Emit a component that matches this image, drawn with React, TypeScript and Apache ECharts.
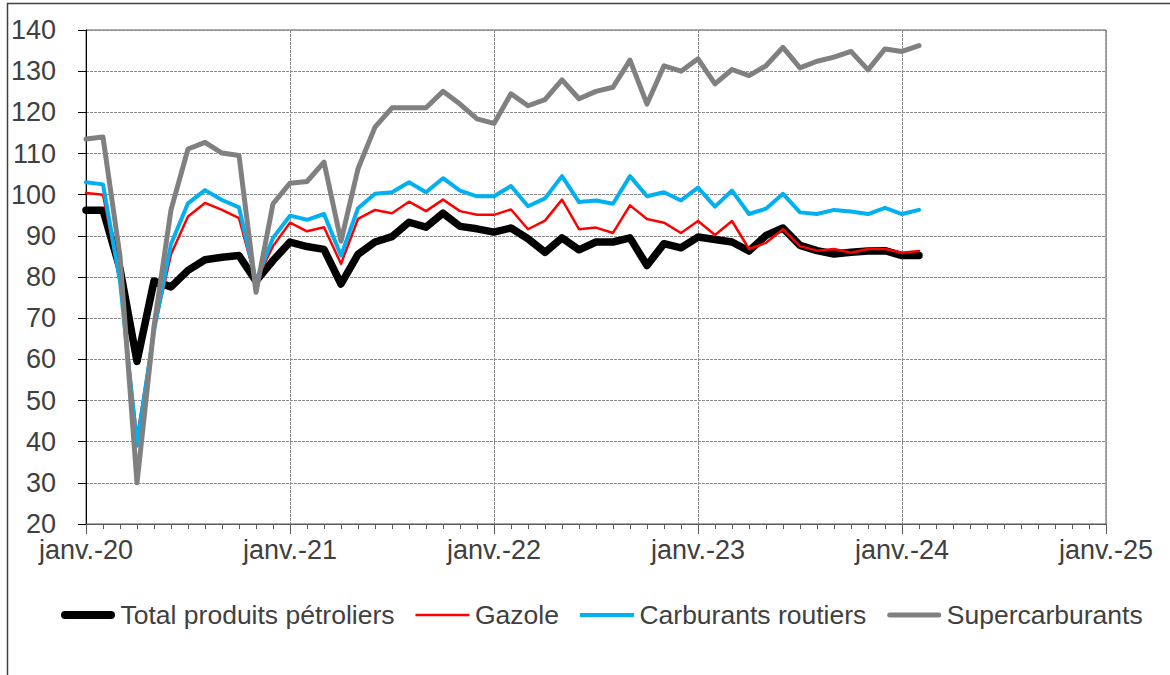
import React, { useEffect, useRef } from "react";
import * as echarts from "echarts";

const monthNames = ["janv.", "févr.", "mars", "avr.", "mai", "juin", "juil.", "août", "sept.", "oct.", "nov.", "déc."];
const years = ["20", "21", "22", "23", "24"];
const lastYear = "25";

const totalProduits = [
  96.2, 96.2, 82, 59.5, 79, 77.6, 81.6, 84.2, 84.8, 85.2, 79, 84,
  88.5, 87.4, 86.7, 78.3, 85.5, 88.5, 89.8, 93.3, 92.1, 95.5, 92.3, 91.7,
  90.9, 91.9, 89.3, 86.0, 89.5, 86.6, 88.5, 88.5, 89.5, 82.8, 88.1, 87.1,
  89.7, 89.1, 88.5, 86.3, 90.1, 91.9, 87.7, 86.4, 85.6, 86.0, 86.3, 86.4,
  85.2, 85.2,
];
const gazole = [
  100.4, 100.0, 79, 41, 67, 85.5, 94.7, 98.0, 96.3, 94.3, 79, 87.5,
  93.2, 91.1, 92.1, 83.2, 94.1, 96.3, 95.5, 98.3, 96.0, 98.8, 96.0, 95.1,
  95.1, 96.4, 91.6, 93.7, 98.8, 91.6, 92.0, 90.7, 97.4, 94.1, 93.2, 90.7,
  93.6, 90.2, 93.6, 86.8, 88.3, 91.6, 87.5, 86.4, 86.8, 85.9, 86.8, 86.8,
  85.9, 86.3,
];
const carburantsRoutiers = [
  103.0, 102.5, 79, 39, 67, 88, 97.9, 101.1, 98.7, 96.9, 79, 89.5,
  94.9, 93.9, 95.3, 85.2, 96.7, 100.2, 100.6, 103.0, 100.6, 104.0, 101.0, 99.6,
  99.6, 102.1, 97.2, 99.1, 104.5, 98.2, 98.6, 97.8, 104.5, 99.6, 100.6, 98.6,
  101.7, 97.1, 101.0, 95.3, 96.6, 100.2, 95.7, 95.3, 96.3, 95.9, 95.3, 96.8,
  95.3, 96.3,
];
const supercarburants = [
  113.5, 114.0, 85, 30, 68, 96.3, 111.1, 112.7, 110.1, 109.5, 76.3, 97.8,
  102.8, 103.2, 107.9, 88.7, 106.3, 116.4, 121.1, 121.1, 121.1, 125.1, 122.0, 118.4,
  117.3, 124.5, 121.6, 123.1, 127.9, 123.3, 125.1, 126.1, 132.7, 122.0, 131.3, 130.0,
  133.0, 126.9, 130.4, 128.9, 131.3, 135.8, 130.8, 132.4, 133.4, 134.8, 130.3, 135.4,
  134.8, 136.2,
];

const seriesNames = ["Total produits pétroliers", "Gazole", "Carburants routiers", "Supercarburants"];
const seriesColors = ["#000000", "#ff0000", "#00b0f0", "#808080"];
const seriesWidths = [7.5, 2.5, 4, 5];

const months: string[] = [];
years.forEach((y) => monthNames.forEach((m) => months.push(m + "-" + y)));
months.push(monthNames[0] + "-" + lastYear);

const FONT = "'Liberation Sans', Arial, sans-serif";
const TEXT = "#404040";

// legend icon: a horizontal bar of given thickness inside a 54x14 box
function barIcon(h: number, round: boolean) {
  const W = 54, H = 14;
  const y0 = (H - h) / 2, y1 = (H + h) / 2, r = h / 2;
  const body = round
    ? `M${r},${y0} L${W - r},${y0} A${r},${r} 0 0 1 ${W - r},${y1} L${r},${y1} A${r},${r} 0 0 1 ${r},${y0} Z`
    : `M0,${y0} L${W},${y0} L${W},${y1} L0,${y1} Z`;
  return `path://M0,0 L0.01,0 Z M${W},${H} L${W - 0.01},${H} Z ${body}`;
}

export default function App() {
  const ref = useRef<HTMLDivElement>(null);
  useEffect(() => {
    if (!ref.current) return;
    const chart = echarts.init(ref.current, undefined, { renderer: "svg" });
    const dash = { color: "#8c8c8c", width: 1, type: [3, 1] as any };
    chart.setOption({
      animation: false,
      backgroundColor: "#ffffff",
      textStyle: { fontFamily: FONT },
      grid: { left: 86, right: 64, top: 30, bottom: 151, show: true, borderColor: "#595959", borderWidth: 1 },
      graphic: [
        {
          type: "polyline",
          shape: { points: [[7.5, 675], [7.5, 3.5], [1170, 3.5]] },
          style: { stroke: "#404040", lineWidth: 1.5, fill: "none" },
          silent: true,
        },
      ],
      legend: {
        left: 56,
        top: 596,
        itemWidth: 55,
        itemHeight: 14,
        itemGap: 21,
        textStyle: { fontFamily: FONT, fontSize: 26.5, color: TEXT, lineHeight: 28 },
        data: seriesNames.map((n, i) => ({
          name: n,
          icon: barIcon(i === 0 ? 8 : seriesWidths[i], i === 0 || i === 3),
          itemStyle: { color: seriesColors[i], borderWidth: 0 },
        })),
      },
      xAxis: [
        {
          type: "category",
          data: months,
          boundaryGap: false,
          position: "bottom",
          axisLine: { show: true, lineStyle: { color: "#595959", width: 1 } },
          axisTick: { show: true, interval: 0, length: 5, lineStyle: { color: "#595959" } },
          axisLabel: { show: false },
          splitLine: { show: false },
        },
        {
          type: "category",
          data: months,
          boundaryGap: false,
          position: "bottom",
          axisLine: { show: false },
          axisTick: { show: true, interval: 11, length: 10, lineStyle: { color: "#595959" } },
          axisLabel: { show: true, interval: 11, margin: 12, fontSize: 27, color: TEXT, fontFamily: FONT },
          splitLine: { show: true, interval: 11, lineStyle: dash },
        },
      ],
      yAxis: {
        type: "value",
        min: 20,
        max: 140,
        interval: 10,
        axisLine: { show: true, lineStyle: { color: "#000000", width: 1 } },
        axisTick: { show: true, length: 8, lineStyle: { color: "#000000" } },
        axisLabel: { fontSize: 27, color: TEXT, margin: 30, fontFamily: FONT },
        splitLine: { show: true, lineStyle: dash },
      },
      series: [totalProduits, gazole, carburantsRoutiers, supercarburants].map((d, i) => ({
        name: seriesNames[i],
        type: "line",
        data: d,
        symbol: "none",
        z: 2 + i,
        lineStyle: { color: seriesColors[i], width: seriesWidths[i], cap: "round", join: "round" },
        itemStyle: { color: seriesColors[i] },
      })),
    });
    return () => chart.dispose();
  }, []);
  return <div ref={ref} style={{ position: "absolute", left: 0, top: 0, width: 1170, height: 675 }} />;
}
